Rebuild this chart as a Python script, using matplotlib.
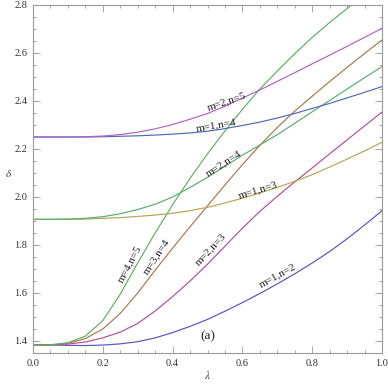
import numpy as np
import matplotlib
matplotlib.use("Agg")
import matplotlib.pyplot as plt
from matplotlib.ticker import MultipleLocator, FormatStrFormatter

# lambda grid and delta values
lam = [0.0, 0.05, 0.1, 0.15, 0.2, 0.25, 0.3, 0.35, 0.4, 0.45, 0.5,
       0.55, 0.6, 0.65, 0.7, 0.75, 0.8, 0.85, 0.9, 0.95, 1.0]

# lower group, delta(0) ~ 1.383
d_m1n2 = [1.383, 1.383, 1.382, 1.381, 1.383, 1.388, 1.397, 1.413, 1.435, 1.461, 1.49,
          1.524, 1.56, 1.598, 1.638, 1.68, 1.725, 1.773, 1.826, 1.883, 1.943]
d_m2n3 = [1.383, 1.384, 1.387, 1.396, 1.413, 1.437, 1.473, 1.525, 1.585, 1.65, 1.72,
          1.795, 1.87, 1.94, 2.003, 2.063, 2.121, 2.18, 2.238, 2.296, 2.354]
d_m3n4 = [1.383, 1.384, 1.39, 1.41, 1.45, 1.515, 1.60, 1.695, 1.787, 1.876, 1.963,
          2.05, 2.135, 2.215, 2.29, 2.358, 2.42, 2.481, 2.54, 2.598, 2.654]
d_m4n5 = [1.383, 1.384, 1.393, 1.42, 1.485, 1.595, 1.725, 1.85, 1.968, 2.078, 2.18,
          2.275, 2.365, 2.45, 2.525, 2.597, 2.665, 2.727, 2.785, 2.843, 2.90]

# middle group, delta(0) ~ 1.907
d_m1n3 = [1.907, 1.907, 1.907, 1.908, 1.911, 1.914, 1.919, 1.925, 1.932, 1.943, 1.957,
          1.975, 1.995, 2.017, 2.04, 2.065, 2.093, 2.125, 2.158, 2.192, 2.228]
d_m2n4 = [1.907, 1.907, 1.908, 1.911, 1.918, 1.93, 1.948, 1.97, 2.0, 2.04, 2.082,
          2.128, 2.174, 2.217, 2.26, 2.307, 2.355, 2.402, 2.45, 2.497, 2.543]

# upper group, delta(0) ~ 2.25
d_m1n4 = [2.25, 2.25, 2.25, 2.25, 2.251, 2.253, 2.255, 2.258, 2.262, 2.267, 2.274,
          2.285, 2.298, 2.312, 2.329, 2.348, 2.369, 2.39, 2.413, 2.436, 2.46]
d_m2n5 = [2.25, 2.25, 2.25, 2.251, 2.254, 2.26, 2.27, 2.284, 2.302, 2.324, 2.348,
          2.378, 2.412, 2.446, 2.482, 2.518, 2.555, 2.591, 2.628, 2.665, 2.703]

series = [
    (d_m1n2, "#5454c4"),
    (d_m2n3, "#b44c98"),
    (d_m3n4, "#a8784c"),
    (d_m4n5, "#5cb060"),
    (d_m1n3, "#b8a454"),
    (d_m2n4, "#58ac6c"),
    (d_m1n4, "#4c6cb4"),
    (d_m2n5, "#b460c4"),
]

# curve labels: text, lambda, delta, rotation
labels = [
    ("m=2,n=5", 0.555, 2.40, 19),
    ("m=1,n=4", 0.525, 2.30, 10),
    ("m=2,n=4", 0.545, 2.14, 33),
    ("m=1,n=3", 0.645, 2.03, 17),
    ("m=4,n=5", 0.278, 1.72, 62),
    ("m=3,n=4", 0.352, 1.75, 57),
    ("m=2,n=3", 0.51, 1.78, 47),
    ("m=1,n=2", 0.70, 1.675, 29),
]

plt.rcParams['font.family'] = ['Liberation Serif', 'DejaVu Serif']
plt.rcParams['mathtext.fontset'] = 'stix'

fig = plt.figure(figsize=(3.88, 3.86), dpi=100)
ax = fig.add_axes([33/388, 33/386, 349/388, 348/386])

for d, c in series:
    ax.plot(lam, d, color=c, lw=0.85)

for txt, x, y, rot in labels:
    ax.text(x, y, txt, rotation=rot, rotation_mode='anchor',
            ha='center', va='center', fontsize=8, color='#222222')

ax.text(0.5, 1.42, "(a)", ha='center', va='center', fontsize=9.5, color='#222222')

ax.set_xlim(0, 1.0)
ax.set_ylim(1.35, 2.8)
ax.xaxis.set_major_locator(MultipleLocator(0.2))
ax.xaxis.set_minor_locator(MultipleLocator(0.05))
ax.yaxis.set_major_locator(MultipleLocator(0.2))
ax.yaxis.set_minor_locator(MultipleLocator(0.05))
ax.xaxis.set_major_formatter(FormatStrFormatter('%.1f'))
ax.yaxis.set_major_formatter(FormatStrFormatter('%.1f'))

for s in ax.spines.values():
    s.set_color('#999999')
    s.set_linewidth(0.8)
ax.tick_params(which='both', direction='in', top=True, right=True,
               color='#999999', width=0.6, labelsize=7.5, labelcolor='#333333')
ax.tick_params(which='major', length=5, pad=4)
ax.tick_params(which='minor', length=2.5)

ax.set_xlabel(r"$\lambda$", fontsize=8, labelpad=1, color='#333333')
ax.set_ylabel(r"$\delta$", fontsize=8, labelpad=4, color='#333333', rotation=0)

fig.savefig("out.png", dpi=100)
